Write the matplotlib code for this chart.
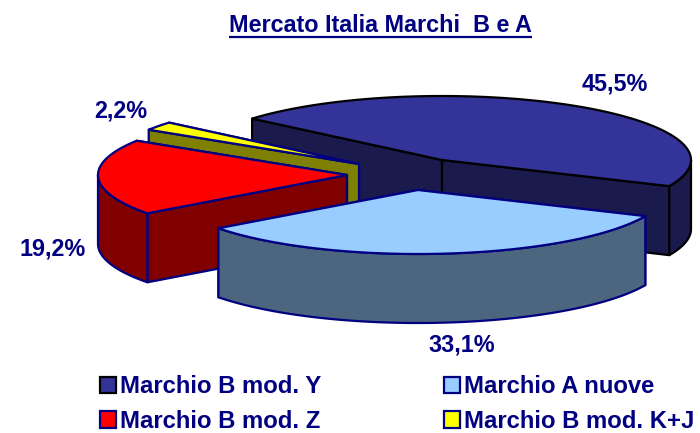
import numpy as np
import matplotlib
matplotlib.use('Agg')
import matplotlib.pyplot as plt
from matplotlib.patches import Patch, Polygon

plt.rcParams['font.family'] = ['Liberation Sans', 'DejaVu Sans']

title = 'Mercato Italia Marchi  B e A'
names = ['Marchio B mod. Y', 'Marchio A nuove', 'Marchio B mod. K+J', 'Marchio B mod. Z']
values = [45.5, 33.1, 2.2, 19.2]
percent_labels = ['45,5%', '33,1%', '2,2%', '19,2%']

# slices clockwise from the start angle: Y, A, K+J is last on the circle
slice_order = [0, 1, 3, 2]
top_colors = ['#333399', '#99ccff', '#ffff00', '#ff0000']
wall_colors = ['#1a1a4d', '#4d6680', '#808000', '#800000']
edge_colors = ['black', '#000080', '#000080', '#000080']
apex = [(442, 160), (418, 190), (359, 164), (347, 175)]
label_pos = [(615, 84), (462, 345), (121, 111), (53, 249)]

START_ANGLE = 139.7
RX, RY, DEPTH = 249, 64, 69
NAVY = '#000080'


def arc_points(center, a0, a1, n=80):
    t = np.radians(np.linspace(a0, a1, n))
    return np.column_stack([center[0] + RX * np.cos(t), center[1] - RY * np.sin(t)])


def draw_slice(ax, center, a0, a1, top, wall, edge, z):
    style = dict(edgecolor=edge, linewidth=1.6, joinstyle='round', zorder=z)
    drop = np.array([0, DEPTH])
    c = np.array(center, dtype=float)

    # cut faces, the one further back goes first
    for ang in sorted([a0, a1], key=lambda x: -np.sin(np.radians(x))):
        p = arc_points(center, ang, ang, 1)[0]
        face = [c, p, p + drop, c + drop]
        ax.add_patch(Polygon(face, closed=True, facecolor=wall, **style))

    # outer wall, only the part on the front half of the circle
    for k in range(-1, 1):
        lo = max(a1, -180 + 360 * k)
        hi = min(a0, 360 * k)
        if hi > lo:
            rim = arc_points(center, hi, lo)
            ax.add_patch(Polygon(np.vstack([rim, rim[::-1] + drop]), closed=True,
                                 facecolor=wall, **style))

    ax.add_patch(Polygon(np.vstack([c, arc_points(center, a0, a1)]), closed=True,
                         facecolor=top, **style))


fig = plt.figure(figsize=(7, 4.33), dpi=100)
ax = fig.add_axes([0, 0, 1, 1])
ax.set_xlim(0, 700)
ax.set_ylim(433, 0)
ax.axis('off')

# back to front
angle = START_ANGLE
spans = {}
for i in slice_order:
    sweep = values[i] / sum(values) * 360
    spans[i] = (angle, angle - sweep)
    angle -= sweep

for z, i in enumerate([0, 2, 3, 1]):
    draw_slice(ax, apex[i], spans[i][0], spans[i][1], top_colors[i], wall_colors[i],
               edge_colors[i], z + 2)

for i, txt in enumerate(percent_labels):
    ax.text(label_pos[i][0], label_pos[i][1], txt, color=NAVY, fontsize=16.8,
            fontweight='bold', ha='center', va='center', zorder=10)

t = ax.text(380.5, 25, title, color=NAVY, fontsize=16.8, fontweight='bold',
            ha='center', va='center')
fig.canvas.draw()
bb = t.get_window_extent().transformed(ax.transData.inverted())
ax.plot([bb.x0, bb.x1], [37, 37], color=NAVY, lw=1.6, solid_capstyle='butt')

handles = []
for i in [0, 3, 1, 2]:
    handles.append(Patch(facecolor=top_colors[i], edgecolor=edge_colors[i] if i == 0 else NAVY,
                         linewidth=1.6, label=names[i]))
leg = ax.legend(handles=handles, ncol=2, loc='lower left', bbox_to_anchor=(100, 433),
                bbox_transform=ax.transData, frameon=False, borderpad=0, borderaxespad=0,
                handlelength=0.67, handleheight=0.67, handletextpad=0.17,
                columnspacing=5.15, labelspacing=0.5, labelcolor=NAVY,
                prop={'family': ['Liberation Sans', 'DejaVu Sans'], 'weight': 'bold', 'size': 17.2})

fig.savefig('out.png', dpi=100)
